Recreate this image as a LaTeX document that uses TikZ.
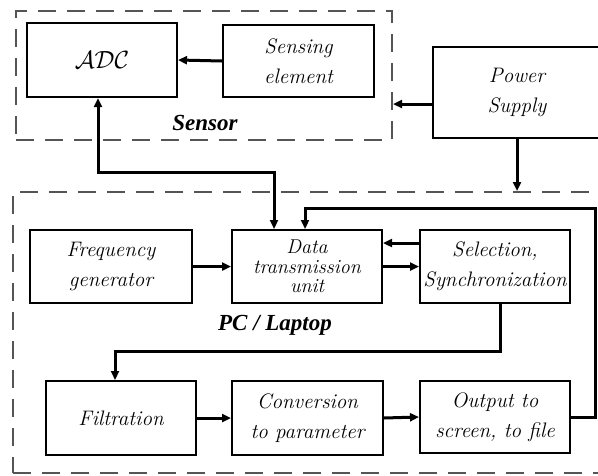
\documentclass[tikz,border=0pt]{standalone}
\usepackage{fontspec}
\usetikzlibrary{arrows.meta}
\newfontfamily\captionfont{Liberation Serif}

\begin{document}
\begin{tikzpicture}[x=1pt,y=-1pt]
			% Define colors
			\definecolor{framegray}{RGB}{85, 85, 85}

			% Styles
			\tikzstyle{unit_box} = [draw=black, line width=2pt, align=center, font=\fontsize{21}{30}\selectfont\itshape]
			\tikzstyle{group_frame} = [draw=framegray, line width=2pt, dash pattern=on 18pt off 11pt]
			\tikzstyle{group_label} = [font=\captionfont\fontsize{23}{24}\selectfont\bfseries\itshape]
			\tikzstyle{link} = [line width=3pt, -{Triangle[length=9pt,width=8pt]}]
			\tikzstyle{link_both} = [line width=3pt, {Triangle[length=9pt,width=8pt]}-{Triangle[length=9pt,width=8pt]}]

			\useasboundingbox (0,0) rectangle (598,475);
			\clip (0,0) rectangle (598,475);

			% Dashed group frames
			\node[group_frame, minimum width=376pt, minimum height=129pt] (sensor) at (204, 75.5) {};
			\node[group_frame, minimum width=597pt, minimum height=281pt] (pc) at (311.5, 332.5) {};
			\node[group_label] (sensorlabel) at (205, 123) {Sensor};
			\node[group_label] (pclabel) at (275, 325) {PC / Laptop};

			% Sensor part
			\node[unit_box, minimum width=150pt, minimum height=74pt] (adc) at (102, 60) {\fontsize{29}{30}\selectfont$\mathcal{ADC}$};
			\node[unit_box, minimum width=151pt, minimum height=72pt] (sense) at (298.5, 61) {Sensing\\element};
			\node[unit_box, minimum width=168pt, minimum height=91pt] (power) at (517, 92.5) {Power\\Supply};

			% PC / Laptop part
			\node[unit_box, minimum width=162pt, minimum height=73pt] (freq) at (111, 266.5) {Frequency\\generator};
			\node[unit_box, minimum width=150pt, minimum height=73pt, font=\fontsize{20}{19.5}\selectfont\itshape] (data) at (307, 266.5) {Data\\transmission\\unit};
			\node[unit_box, minimum width=150pt, minimum height=73pt] (sel) at (495, 266.5) {Selection,\\Synchronization};
			\node[unit_box, minimum width=150pt, minimum height=74pt] (filt) at (121, 418) {Filtration};
			\node[unit_box, minimum width=151pt, minimum height=74pt] (conv) at (307.5, 418) {Conversion\\to parameter};
			\node[unit_box, minimum width=150pt, minimum height=72pt] (out) at (495, 417) {Output to\\screen, to file};

			% Connections
			\draw[link] (sense.west) -- (adc.east);
			\draw[link] (power.west |- 0,104) -- (sensor.east |- 0,104);
			\draw[link] (power.south) -- (power.south |- pc.north);
			\draw[link_both] ([xshift=-4pt]adc.south) -- ++(0,74) -| ([xshift=-33pt]data.north);
			\draw[link] (freq.east) -- (data.west);
			\draw[link] ([yshift=23.5pt]sel.west) -- ([yshift=23.5pt]data.east);
			\draw[link] (data.east) -- (sel.west);
			\draw[link] ([xshift=5pt]sel.south) -- ++(0,47) -| ([xshift=-6pt]filt.north);
			\draw[link] (filt.east) -- (conv.west);
			\draw[link] (conv.east) -- (out.west);

			% Feedback to the data unit
			\coordinate (loop) at (595, 208);
			\draw[link] (out.east) -| (loop) -| ([xshift=-2pt]data.north);

\end{tikzpicture}
\end{document}
